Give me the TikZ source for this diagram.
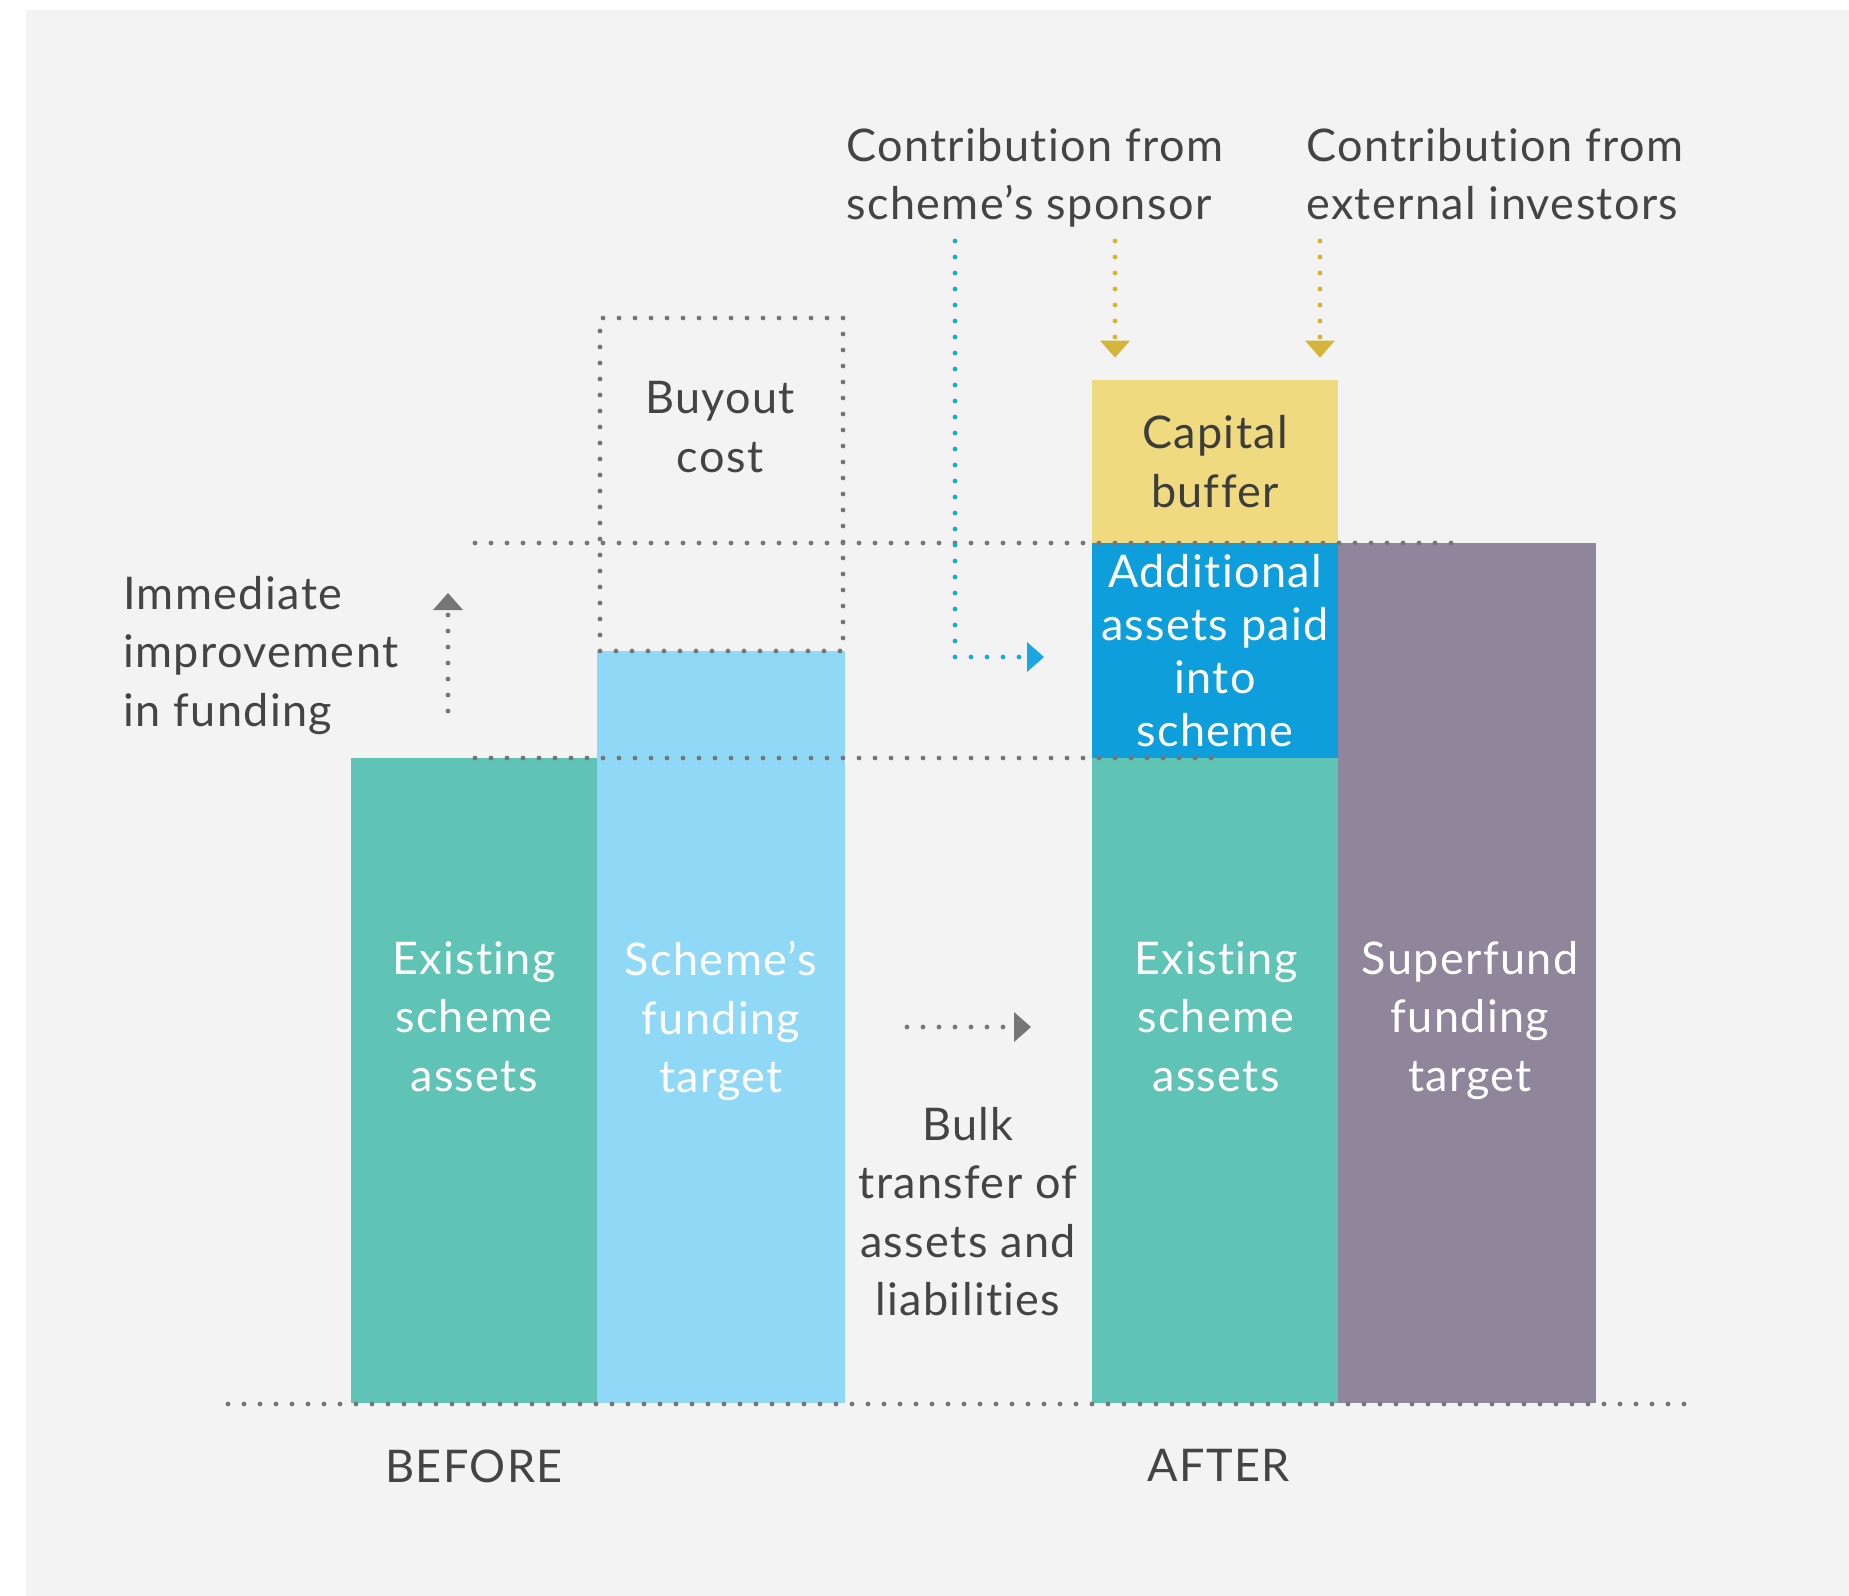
\documentclass[tikz,border=0pt]{standalone}
\usepackage{fontspec}
\setmainfont[LetterSpace=3, Ligatures={TeX,NoCommon}]{Lato}
\usetikzlibrary{arrows.meta}

\definecolor{bggray}{HTML}{F3F3F3}
\definecolor{tealbar}{HTML}{5FC4B6}
\definecolor{skybar}{HTML}{8FD8F6}
\definecolor{bluebar}{HTML}{0E9EDB}
\definecolor{yellowbar}{HTML}{EFDA7F}
\definecolor{purplebar}{HTML}{8F869C}
\definecolor{textgray}{HTML}{444444}
\definecolor{dotgray}{HTML}{767676}
\definecolor{dotblue}{HTML}{1BA7E2}
\definecolor{dotyellow}{HTML}{D4B43A}

\tikzset{
  dotline/.style={dotgray, line width=2.4pt, line cap=round, dash pattern=on 0pt off 8pt},
  headtip/.style={-{Triangle[width=15pt,length=8.5pt,line width=0pt]}},
  darktext/.style={text=textgray, inner sep=0pt, font=\fontsize{22.5}{29.2}\selectfont},
  bartext/.style={text=white, inner sep=0pt, anchor=north, align=center, font=\fontsize{22.5}{29.2}\selectfont}
}

\begin{document}
\begin{tikzpicture}[x=0.5pt, y=-0.5pt]
  \useasboundingbox (0,0) rectangle (1849,1596);
  \fill[white] (0,0) rectangle (1849,1596);
  \fill[bggray] (26,10) rectangle (1849,1596);

  % bars
  \fill[tealbar] (351,758) rectangle (597,1403);
  \fill[skybar] (597,651) rectangle (845,1403);
  \fill[tealbar] (1092,758) rectangle (1338,1403);
  \fill[purplebar] (1338,543) rectangle (1596,1403);
  \node[fill=yellowbar, minimum width=123pt, minimum height=81.5pt, inner sep=0pt, align=center,
        text=textgray!90!black, font=\fontsize{22.5}{29.2}\selectfont] (buffer) at (1215,461.5) {Capital\\buffer};
  \node[fill=bluebar, minimum width=123pt, minimum height=107.5pt, inner sep=0pt, align=center,
        text=white, font=\fontsize{22.5}{26.5}\selectfont] (additional) at (1215,650.5) {Additional\\assets paid\\into\\scheme};

  % dotted guides
  \draw[dotline] (600,651) rectangle (843,318);
  \draw[dotline] (475,543) -- (1460,543);
  \draw[dotline] (475,758) -- (1212,758);
  \draw[dotline] (228,1404) -- (1688,1404);

  % texts
  \node[darktext, anchor=north west, align=left] (sponsor) at (846,128) {Contribution from\\scheme’s sponsor};
  \node[darktext, anchor=north west, align=left] (investors) at (1306,128) {Contribution from\\external investors};
  \node[darktext, anchor=north, align=center] (buyout) at (720,381) {Buyout\\cost};
  \node[darktext, anchor=north west, align=left] (improve) at (123,576) {Immediate\\improvement\\in funding};
  \node[darktext, anchor=north, align=center] (bulk) at (968,1107) {Bulk\\transfer of\\assets and\\liabilities};
  \node[bartext] (oldassets) at (474,941) {Existing\\scheme\\assets};
  \node[bartext] (schemetarget) at (721,941) {Scheme’s\\funding\\target};
  \node[bartext] (newassets) at (1216,941) {Existing\\scheme\\assets};
  \node[bartext] (superfund) at (1470,941) {Superfund\\funding\\target};
  \node[darktext, anchor=north] (before) at (474,1449) {BEFORE};
  \node[darktext, anchor=north] (after) at (1219,1449) {AFTER};

  % connectors
  \coordinate (sponsorblue) at (955,241);
  \coordinate (bluehead) at (1044,657);
  \coordinate (sponsorgold) at (1115,241);
  \coordinate (investgold) at (1320,241);
  \coordinate (liftfoot) at (448,711);
  \coordinate (lifthead) at (448,593);
  \coordinate (bulkfoot) at (907,1027);
  \coordinate (bulkhead) at (1031,1027);
  \draw[dotline, dotblue, headtip] (sponsorblue) |- (bluehead);
  \draw[dotline, dotyellow, headtip, shorten >=11pt] (sponsorgold) -- (buffer.north -| sponsorgold);
  \draw[dotline, dotyellow, headtip, shorten >=11pt] (investgold) -- (buffer.north -| investgold);
  \draw[dotline, headtip] (liftfoot) -- (lifthead);
  \draw[dotline, headtip] (bulkfoot) -- (bulkhead);
\end{tikzpicture}
\end{document}
